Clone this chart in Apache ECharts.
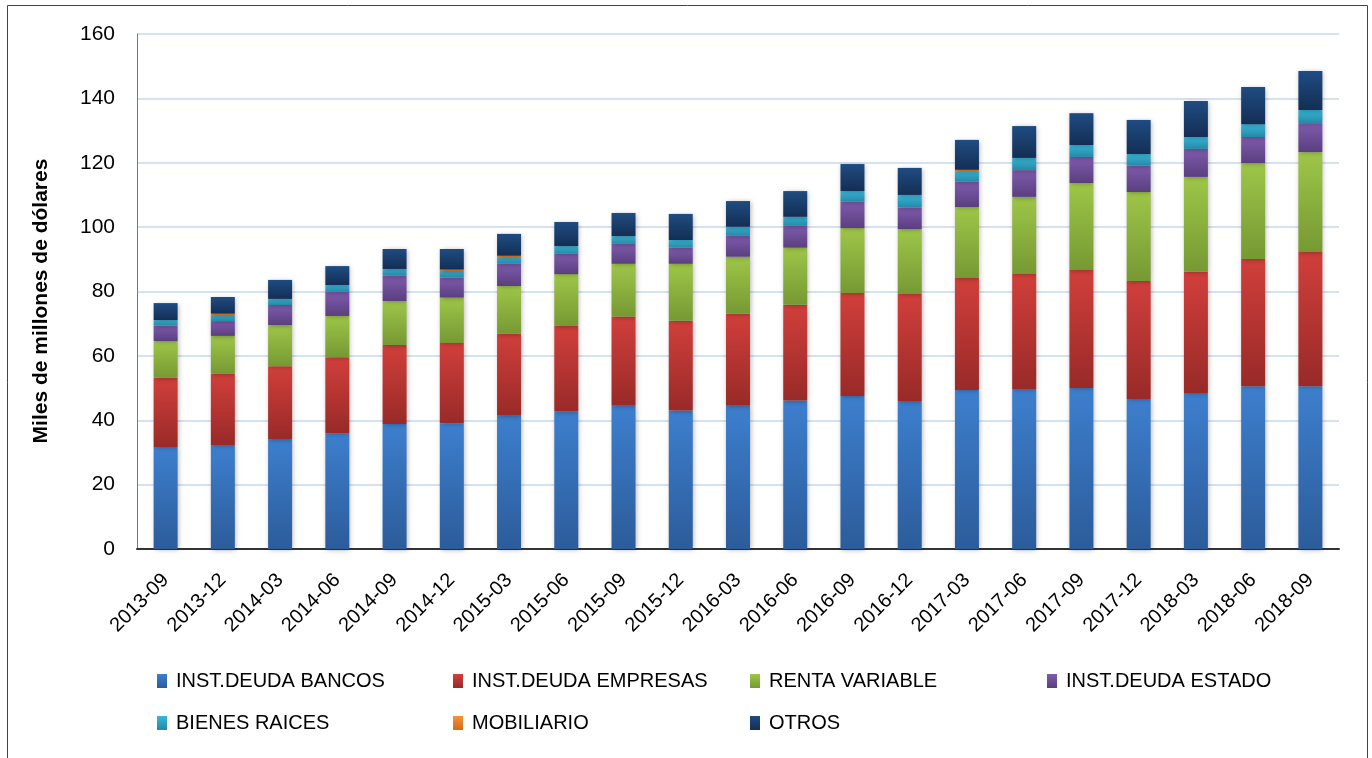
<!DOCTYPE html>
<html>
<head>
<meta charset="utf-8">
<script src="https://cdn.jsdelivr.net/npm/echarts@6/dist/echarts.min.js"></script>
<style>
  html, body { margin: 0; padding: 0; background: #fff; }
  #chart { width: 1372px; height: 758px; }
</style>
</head>
<body>
<div id="chart"></div>
<script>
var periodos = ['2013-09','2013-12','2014-03','2014-06','2014-09','2014-12','2015-03','2015-06','2015-09','2015-12',
  '2016-03','2016-06','2016-09','2016-12','2017-03','2017-06','2017-09','2017-12','2018-03','2018-06','2018-09'];

var deudaBancos   = [31.7,32.3,34.2,36.0,38.8,39.1,41.4,42.7,44.5,43.0,44.5,46.1,47.5,46.0,49.4,49.7,50.0,46.6,48.5,50.6,50.6];
var deudaEmpresas = [21.5,22.2,22.6,23.6,24.6,24.9,25.5,26.7,27.7,27.9,28.6,29.8,32.0,33.2,34.8,35.7,36.7,36.7,37.6,39.5,41.7];
var rentaVariable = [11.4,11.7,12.8,12.8,13.6,14.1,14.8,16.0,16.4,17.7,17.7,17.7,20.2,20.2,22.0,24.0,27.0,27.6,29.5,29.8,31.0];
var deudaEstado   = [4.8,4.6,6.2,7.5,7.9,6.2,6.9,6.3,6.2,5.0,6.5,6.8,8.2,6.7,7.9,8.3,8.1,8.2,8.7,8.1,9.0];
var bienesRaices  = [1.7,1.9,1.9,2.1,2.1,2.1,2.1,2.4,2.4,2.4,2.8,2.8,3.3,3.9,3.3,3.8,3.7,3.6,3.7,4.0,4.1];
var mobiliario    = [0,0.4,0,0,0,0.4,0.4,0,0,0,0,0,0,0,0.4,0,0,0,0,0,0];
var otros         = [5.3,5.2,5.9,5.9,6.2,6.4,6.8,7.5,7.2,8.1,8.0,8.0,8.4,8.4,9.3,9.9,9.9,10.6,11.2,11.5,12.1];

var yTitulo = 'Miles de millones de dólares';

var FONT = 'Liberation Sans';

function grad(top, bottom) {
  return new echarts.graphic.LinearGradient(0, 0, 0, 1, [
    { offset: 0, color: top },
    { offset: 1, color: bottom }
  ]);
}

var seriesDefs = [
  { name: 'INST.DEUDA BANCOS',   data: deudaBancos,   c: ['#3d7fce', '#2c5c9a'] },
  { name: 'INST.DEUDA EMPRESAS', data: deudaEmpresas, c: ['#d13f3b', '#982a28'] },
  { name: 'RENTA VARIABLE',      data: rentaVariable, c: ['#9ec648', '#769933'] },
  { name: 'INST.DEUDA ESTADO',   data: deudaEstado,   c: ['#7f5bad', '#5a3f7f'] },
  { name: 'BIENES RAICES',       data: bienesRaices,  c: ['#38b6d9', '#2688a5'] },
  { name: 'MOBILIARIO',          data: mobiliario,    c: ['#f7923a', '#d06d19'] },
  { name: 'OTROS',               data: otros,         c: ['#1f4c82', '#142e54'] }
];

var series = seriesDefs.map(function (s) {
  return {
    name: s.name,
    type: 'bar',
    stack: 'total',
    barWidth: 24,
    data: s.data,
    itemStyle: {
      color: grad(s.c[0], s.c[1]),
      shadowBlur: 5,
      shadowColor: 'rgba(0,0,0,0.3)',
      shadowOffsetX: 1,
      shadowOffsetY: 1
    },
    emphasis: { disabled: true }
  };
});

// legend placed in two rows, four columns, one component per item
var legendCols = [157, 453, 750, 1047];
var legendRows = [671, 713];
var legends = seriesDefs.map(function (s, i) {
  return {
    data: [{ name: s.name, icon: 'rect' }],
    left: legendCols[i % 4],
    top: legendRows[Math.floor(i / 4)],
    padding: 0,
    itemWidth: 10,
    itemHeight: 14,
    itemGap: 0,
    selectedMode: false,
    textStyle: { fontFamily: FONT, fontSize: 20, color: '#000', padding: [0, 0, 0, 4] }
  };
});

var chart = echarts.init(document.getElementById('chart'), null, { renderer: 'canvas' });
chart.setOption({
  animation: false,
  backgroundColor: '#fff',
  graphic: [{
    type: 'rect',
    shape: { x: 7.5, y: 5.5, width: 1360, height: 770 },
    style: { fill: 'none', stroke: '#444', lineWidth: 1 },
    silent: true
  }, {
    type: 'text',
    x: 41,
    y: 301,
    rotation: Math.PI / 2,
    style: {
      text: yTitulo,
      fontFamily: FONT,
      fontSize: 21,
      fontWeight: 'bold',
      fill: '#000',
      align: 'center',
      verticalAlign: 'middle'
    },
    silent: true
  }],
  grid: { left: 137, right: 33, top: 34, bottom: 209, containLabel: false },
  legend: legends,
  xAxis: {
    type: 'category',
    data: periodos,
    axisLine: { lineStyle: { color: '#333', width: 2 } },
    axisTick: { show: false },
    axisLabel: {
      rotate: 45,
      margin: 28,
      fontFamily: FONT,
      fontSize: 20,
      color: '#000'
    }
  },
  yAxis: {
    type: 'value',
    min: 0,
    max: 160,
    interval: 20,
    axisLine: { show: true, lineStyle: { color: '#777', width: 1 } },
    axisTick: { show: false },
    axisLabel: {
      margin: 22,
      fontFamily: FONT,
      fontSize: 21,
      color: '#000'
    },
    splitLine: { lineStyle: { color: '#d5e2f3', width: 2 } }
  },
  series: series
});
</script>
</body>
</html>
